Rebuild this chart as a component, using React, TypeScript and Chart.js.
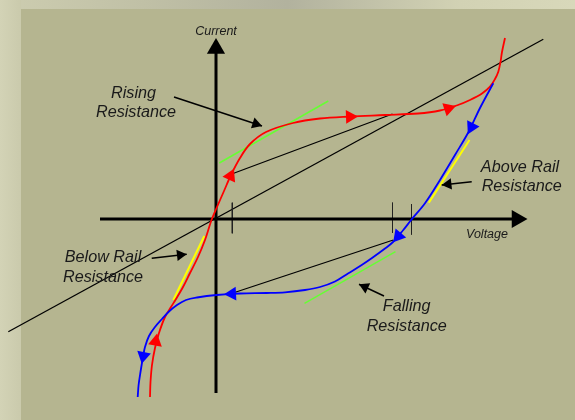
import React, { useEffect, useRef } from "react";
import { Chart, registerables } from "chart.js";

Chart.register(...registerables);

const W = 575;
const H = 420;

// Scale limits (Voltage / Current, arbitrary units; origin where the axes cross)
const V_MIN = -21.6;
const V_MAX = 35.9;
const I_MIN = -20.1;
const I_MAX = 21.9;

// Rising (red) branch of the I-V loop
const redV = [-6.6, -6.55, -6.4, -6.1, -5.7, -5.1, -4.5, -4.0, -3.3, -2.6, -1.8, -1.1, -0.45, 0.1, 0.8, 1.5, 2.4, 3.4, 5.0, 7.7, 10.4, 13.4, 16.9, 20.2, 22.4, 24.2, 25.4, 26.6, 27.4, 27.9, 28.23, 28.45, 28.6, 28.9];
const redI = [-17.8, -16.3, -14.6, -12.9, -11.4, -9.8, -8.8, -8.0, -6.8, -5.4, -3.8, -2.1, -0.1, 1.2, 2.8, 4.4, 6.1, 7.5, 8.7, 9.6, 10.05, 10.25, 10.4, 10.55, 10.85, 11.4, 11.9, 12.55, 13.23, 14.0, 14.73, 15.7, 16.7, 18.1];

// Falling (blue) branch of the I-V loop
const blueV = [27.73, 26.4, 25.25, 23.9, 22.4, 20.9, 19.57, 18.73, 17.7, 16.9, 15.6, 14.57, 13.2, 11.9, 10.4, 8.9, 6.9, 5.07, 2.4, 0.07, -1.9, -3.0, -3.9, -4.7, -5.4, -6.1, -6.7, -7.1, -7.3, -7.55, -7.74, -7.83];
const blueI = [13.57, 11.1, 8.7, 6.4, 3.9, 1.57, -0.03, -1.1, -2.3, -2.95, -3.9, -4.6, -5.45, -6.25, -6.8, -7.1, -7.33, -7.4, -7.45, -7.6, -7.85, -8.1, -8.6, -9.25, -10.0, -10.8, -11.7, -12.8, -13.8, -15.3, -16.6, -17.8];

// Direction markers on the curves (position + heading in degrees)
const redArrowV = [-6.03, 1.45, 13.4, 23.23];
const redArrowI = [-12.25, 4.3, 10.23, 11.05];
const redArrowDeg = [10, 25, 88, 72];
const blueArrowV = [25.55, 18.23, 1.6, -7.27];
const blueArrowI = [9.2, -1.7, -7.48, -13.7];
const blueArrowDeg = [-153, -140, -93, -169];

// Straight segments
const loadLineV = [-20.77, 32.73];
const loadLineI = [-11.27, 17.97];
const riseChordV = [1.57, 17.65];
const riseChordI = [4.5, 10.5];
const fallChordV = [1.7, 17.73];
const fallChordI = [-7.4, -2.1];
const riseTangentV = [0.33, 11.23];
const riseTangentI = [5.6, 11.8];
const fallTangentV = [8.85, 17.95];
const fallTangentI = [-8.43, -3.27];
const aboveRailV = [25.35, 21.28];
const aboveRailI = [7.9, 1.63];
const belowRailV = [-1.17, -4.27];
const belowRailI = [-1.7, -8.1];

// Voltage tick marks on the horizontal axis
const tickV = [1.63, 17.65, 19.55];
const tickTop = [1.63, 1.63, 1.5];
const tickBottom = [-1.43, -1.4, -1.55];

// Axes
const vAxisV = [0, 0];
const vAxisI = [-17.4, 16.9];
const hAxisV = [-11.6, 30.0];
const hAxisI = [0, 0];
const axisHeadV = [0, 30.1];
const axisHeadI = [17.05, 0];
const axisHeadDeg = [0, 90];

// Callout arrows (start -> tip)
const noteStartV = [-4.2, 25.57, -6.43, 16.8];
const noteStartI = [12.2, 3.73, -3.93, -7.7];
const noteTipV = [4.6, 22.57, -2.93, 14.3];
const noteTipI = [9.3, 3.4, -3.53, -6.53];

const LABELS = [
  { text: "Current", v: 0, i: 18.7, size: 12.5 },
  { text: "Voltage", v: 27.1, i: -1.6, size: 12.5 },
  { text: "Rising", v: -8.25, i: 12.6, size: 16.2 },
  { text: "Resistance", v: -8.0, i: 10.7, size: 16.2 },
  { text: "Above Rail", v: 30.4, i: 5.2, size: 16.2 },
  { text: "Resistance", v: 30.57, i: 3.3, size: 16.2 },
  { text: "Below Rail", v: -11.3, i: -3.87, size: 16.2 },
  { text: "Resistance", v: -11.3, i: -5.8, size: 16.2 },
  { text: "Falling", v: 19.07, i: -8.7, size: 16.2 },
  { text: "Resistance", v: 19.07, i: -10.77, size: 16.2 },
];

const pts = (xs: number[], ys: number[]) => xs.map((x, k) => ({ x, y: ys[k] }));

const seg = (xs: number[], ys: number[], color: string, width: number, tension = 0) => ({
  data: pts(xs, ys),
  showLine: true,
  borderColor: color,
  borderWidth: width,
  pointRadius: 0,
  pointHoverRadius: 0,
  fill: false,
  tension,
  borderCapStyle: "butt",
});

const heads = (xs: number[], ys: number[], deg: number[], color: string, r: number) => ({
  data: pts(xs, ys),
  showLine: false,
  pointStyle: "triangle",
  pointRadius: r,
  pointHoverRadius: r,
  pointRotation: deg,
  pointBackgroundColor: color,
  pointBorderColor: color,
  pointBorderWidth: 0,
});

function buildDatasets() {
  const list: any[] = [];
  list.push(seg(loadLineV, loadLineI, "#000000", 1.3));
  list.push(seg(riseChordV, riseChordI, "#000000", 1.3));
  list.push(seg(fallChordV, fallChordI, "#000000", 1.3));
  list.push(seg(riseTangentV, riseTangentI, "#66ff33", 1.5));
  list.push(seg(fallTangentV, fallTangentI, "#66ff33", 1.5));
  list.push(seg(aboveRailV, aboveRailI, "#ffff00", 2));
  list.push(seg(belowRailV, belowRailI, "#ffff00", 2));
  tickV.forEach((v, k) => list.push(seg([v, v], [tickTop[k], tickBottom[k]], "#222222", 1)));
  list.push(seg(vAxisV, vAxisI, "#000000", 3));
  list.push(seg(hAxisV, hAxisI, "#000000", 3));
  list.push(heads(axisHeadV, axisHeadI, axisHeadDeg, "#000000", 10.5));
  list.push(seg(redV, redI, "#ff0000", 1.8, 0.35));
  list.push(seg(blueV, blueI, "#0000ff", 1.8, 0.35));
  list.push(heads(redArrowV, redArrowI, redArrowDeg, "#ff0000", 8));
  list.push(heads(blueArrowV, blueArrowI, blueArrowDeg, "#0000ff", 8));
  // callout arrows
  const r = 6.5;
  const hv: number[] = [];
  const hi: number[] = [];
  const hd: number[] = [];
  noteStartV.forEach((sv, k) => {
    const dv = noteTipV[k] - sv;
    const di = noteTipI[k] - noteStartI[k];
    const len = Math.hypot(dv, di);
    const back = r / 10; // radius in units (10 px per unit)
    hv.push(noteTipV[k] - (dv / len) * back);
    hi.push(noteTipI[k] - (di / len) * back);
    hd.push((Math.atan2(dv, di) * 180) / Math.PI);
    list.push(seg([sv, noteTipV[k]], [noteStartI[k], noteTipI[k]], "#000000", 1.5));
  });
  list.push(heads(hv, hi, hd, "#000000", r));
  return list.reverse();
}

const backgroundPlugin = {
  id: "slideBackground",
  beforeDraw(chart: any) {
    const ctx = chart.ctx as CanvasRenderingContext2D;
    ctx.save();
    const lg = ctx.createLinearGradient(0, 0, 21, 0);
    lg.addColorStop(0, "#d3d3b6");
    lg.addColorStop(1, "#cacaac");
    ctx.fillStyle = lg;
    ctx.fillRect(0, 0, W, H);
    const tg = ctx.createLinearGradient(0, 0, W, 0);
    tg.addColorStop(0, "#cdcdb0");
    tg.addColorStop(0.25, "#c0c0a6");
    tg.addColorStop(0.5, "#b2b29e");
    tg.addColorStop(0.8, "#d2d2b4");
    tg.addColorStop(1, "#d8d8ba");
    ctx.fillStyle = tg;
    ctx.fillRect(21, 0, W - 21, 9);
    ctx.fillStyle = "#b5b590";
    ctx.fillRect(21, 9, W - 21, H - 9);
    ctx.restore();
  },
};

const labelPlugin = {
  id: "calloutLabels",
  afterDatasetsDraw(chart: any) {
    const ctx = chart.ctx as CanvasRenderingContext2D;
    const xs = chart.scales.x;
    const ys = chart.scales.y;
    ctx.save();
    ctx.fillStyle = "#1a1a1a";
    ctx.textAlign = "center";
    ctx.textBaseline = "middle";
    LABELS.forEach((l) => {
      ctx.font = `italic ${l.size}px "Liberation Sans", Arial, sans-serif`;
      ctx.fillText(l.text, xs.getPixelForValue(l.v), ys.getPixelForValue(l.i));
    });
    ctx.restore();
  },
};

export default function App() {
  const ref = useRef<HTMLCanvasElement | null>(null);
  useEffect(() => {
    if (!ref.current) return;
    const chart = new Chart(ref.current, {
      type: "scatter",
      data: { datasets: buildDatasets() },
      options: {
        animation: false,
        responsive: false,
        maintainAspectRatio: false,
        devicePixelRatio: 1,
        events: [],
        layout: { padding: 0, autoPadding: false },
        plugins: { legend: { display: false }, tooltip: { enabled: false } },
        scales: {
          x: { type: "linear", min: V_MIN, max: V_MAX, display: false },
          y: { type: "linear", min: I_MIN, max: I_MAX, display: false },
        },
      },
      plugins: [backgroundPlugin, labelPlugin],
    } as any);
    return () => chart.destroy();
  }, []);
  return (
    <div style={{ position: "absolute", left: 0, top: 0, width: W, height: H }}>
      <canvas ref={ref} width={W} height={H} style={{ display: "block", width: W, height: H }} />
    </div>
  );
}
